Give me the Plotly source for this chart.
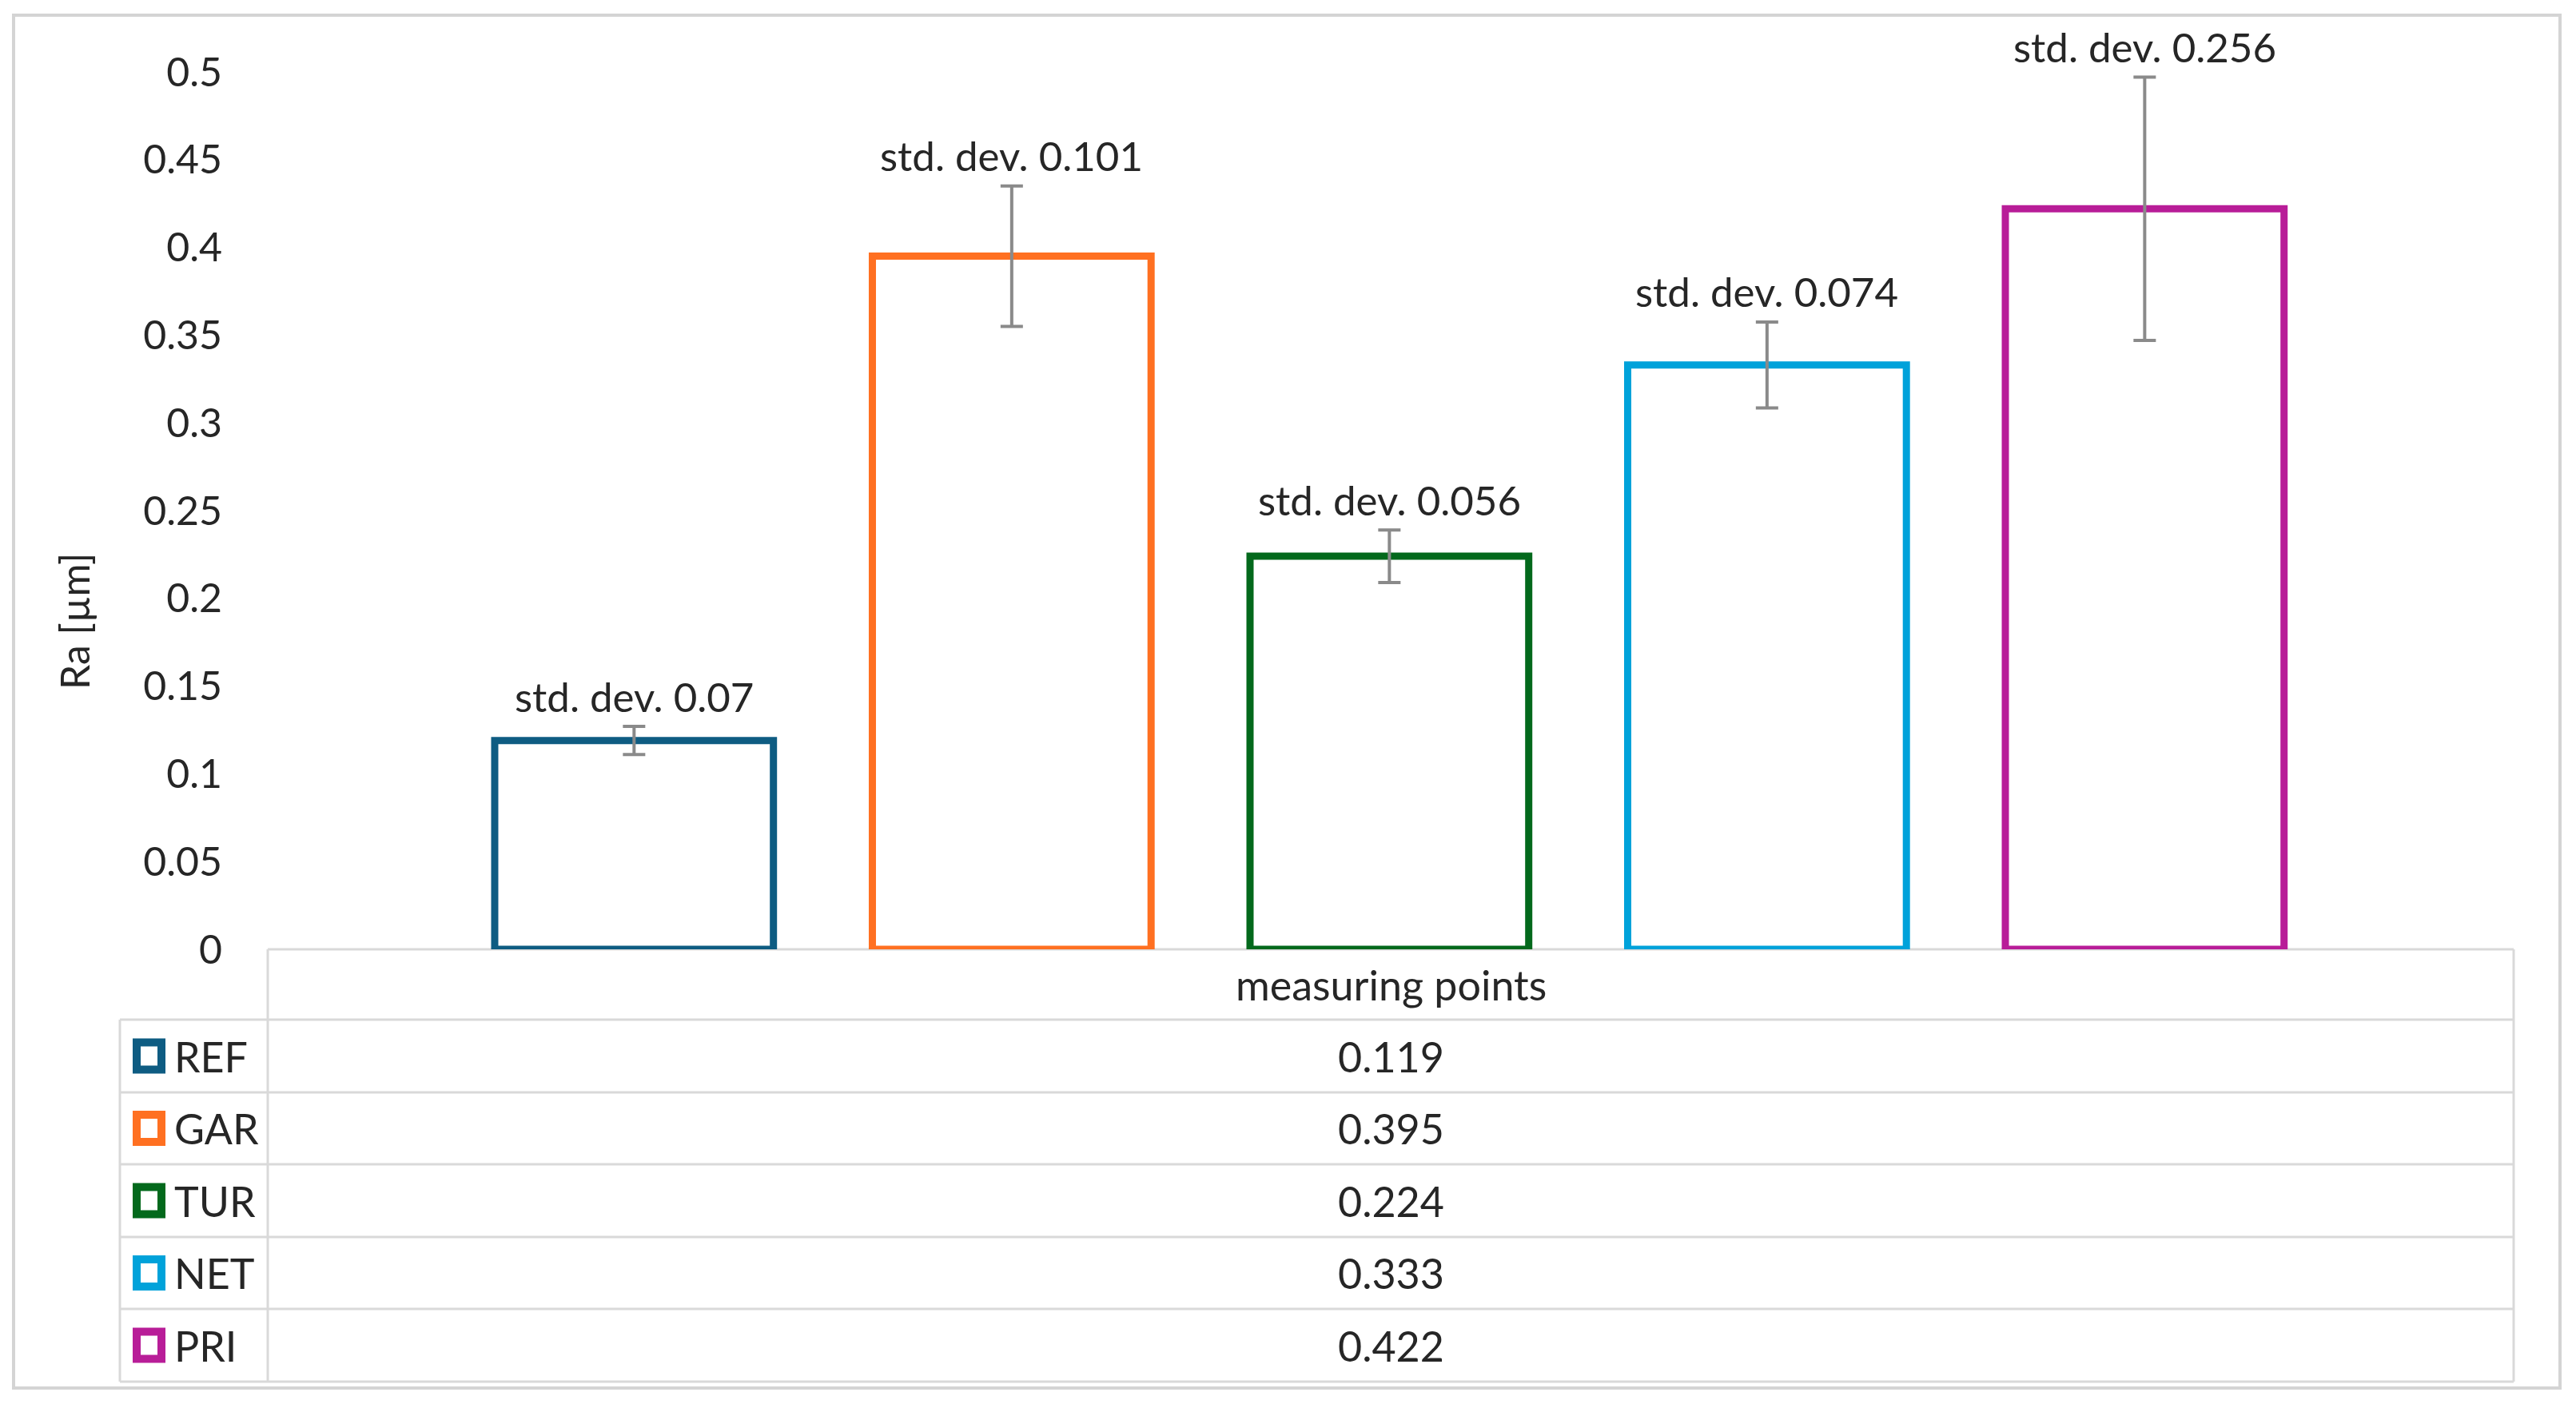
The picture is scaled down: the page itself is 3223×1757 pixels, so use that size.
import plotly.graph_objects as go

# ---------------- data ----------------
series = ["REF", "GAR", "TUR", "NET", "PRI"]
ra_values = [0.119, 0.395, 0.224, 0.333, 0.422]
error_values = [0.008, 0.040, 0.015, 0.0245, 0.075]
std_devs = [0.07, 0.101, 0.056, 0.074, 0.256]
colors = ["#0E5C82", "#FF7021", "#03691C", "#00A2DA", "#B81D98"]
category_label = "measuring points"
y_title = "Ra [µm]"
y_tick_vals = [0, 0.05, 0.1, 0.15, 0.2, 0.25, 0.3, 0.35, 0.4, 0.45, 0.5]
y_tick_text = ["0", "0.05", "0.1", "0.15", "0.2", "0.25", "0.3", "0.35", "0.4", "0.45", "0.5"]

# ---------------- layout helpers ----------------
W, H = 3223, 1757
FONT = "Lato, 'Open Sans', sans-serif"
TXT = "#262626"
GRID = "#D9D9D9"


def px(x):
    return x / W


def py(y):
    return 1 - y / H


plot_left, plot_right = 335, 3145
plot_top, plot_bottom = 90, 1188
legend_left = 150
row_lines = [1188, 1276, 1367, 1457, 1548, 1638, 1729]

fig = go.Figure()

for s, v, e, c in zip(series, ra_values, error_values, colors):
    fig.add_trace(go.Bar(
        x=[s], y=[v], name=s,
        marker=dict(color="white", line=dict(color=c, width=9)),
        error_y=dict(type="data", array=[e], color="#8A8A8A", thickness=4, width=14),
        cliponaxis=False, showlegend=False,
    ))

annotations = []
for s, v, e, sd in zip(series, ra_values, error_values, std_devs):
    annotations.append(dict(
        x=s, y=v + e, xref="x", yref="y", text=f"std. dev. {sd}",
        showarrow=False, yanchor="middle", yshift=38,
        font=dict(family=FONT, size=51, color=TXT),
    ))

# axis title
annotations.append(dict(
    x=px(93), y=py(778), xref="paper", yref="paper", text=y_title,
    textangle=-90, showarrow=False, xanchor="center", yanchor="middle",
    font=dict(family=FONT, size=50, color=TXT),
))

# data table text
table_cx = (plot_left + plot_right) / 2
annotations.append(dict(
    x=px(table_cx), y=py((row_lines[0] + row_lines[1]) / 2), xref="paper", yref="paper",
    text=category_label, showarrow=False, xanchor="center", yanchor="middle",
    font=dict(family=FONT, size=52, color=TXT),
))

shapes = []
# outer chart border
shapes.append(dict(type="rect", xref="paper", yref="paper",
                   x0=px(17), x1=px(3203), y0=py(1737), y1=py(19),
                   line=dict(color="#D4D4D4", width=4), fillcolor="rgba(0,0,0,0)", layer="below"))

for i, (s, v, c) in enumerate(zip(series, ra_values, colors)):
    y0, y1 = row_lines[i + 1], row_lines[i + 2]
    yc = (y0 + y1) / 2
    annotations.append(dict(
        x=px(table_cx), y=py(yc), xref="paper", yref="paper", text=str(v),
        showarrow=False, xanchor="center", yanchor="middle",
        font=dict(family=FONT, size=52, color=TXT),
    ))
    annotations.append(dict(
        x=px(216), y=py(yc), xref="paper", yref="paper", text=s,
        showarrow=False, xanchor="left", yanchor="middle",
        font=dict(family=FONT, size=52, color=TXT),
    ))
    shapes.append(dict(type="rect", xref="paper", yref="paper",
                       x0=px(171), x1=px(202), y0=py(yc + 17), y1=py(yc - 17),
                       line=dict(color=c, width=10), fillcolor="white"))

# table lines
shapes.append(dict(type="line", xref="paper", yref="paper",
                   x0=px(plot_left), x1=px(plot_right), y0=py(row_lines[0]), y1=py(row_lines[0]),
                   line=dict(color=GRID, width=3), layer="below"))
for yl in row_lines[1:]:
    shapes.append(dict(type="line", xref="paper", yref="paper",
                       x0=px(legend_left), x1=px(plot_right), y0=py(yl), y1=py(yl),
                       line=dict(color=GRID, width=3), layer="below"))
for xl, ytop in [(plot_left, row_lines[0]), (plot_right, row_lines[0]), (legend_left, row_lines[1])]:
    shapes.append(dict(type="line", xref="paper", yref="paper",
                       x0=px(xl), x1=px(xl), y0=py(ytop), y1=py(row_lines[-1]),
                       line=dict(color=GRID, width=3), layer="below"))

fig.update_layout(
    width=W, height=H,
    margin=dict(l=0, r=0, t=0, b=0, pad=0),
    paper_bgcolor="white", plot_bgcolor="white",
    barmode="overlay", bargap=0.262,
    annotations=annotations, shapes=shapes,
    font=dict(family=FONT, color=TXT),
    xaxis=dict(
        type="category", categoryorder="array", categoryarray=series,
        range=[-0.97, 4.977], domain=[px(plot_left), px(plot_right)],
        showticklabels=False, showgrid=False, zeroline=False, showline=False, ticks="",
        automargin=False,
    ),
    yaxis=dict(
        range=[0, 0.5], domain=[py(plot_bottom), py(plot_top)],
        tickvals=y_tick_vals, ticktext=y_tick_text, ticks="",
        showgrid=False, zeroline=False, showline=False, automargin=False,
        tickfont=dict(family=FONT, size=50, color=TXT), ticklabelstandoff=56,
    ),
)

fig.write_html("out.html", config={"displayModeBar": False},
               post_script="document.body.style.margin='0px';")
